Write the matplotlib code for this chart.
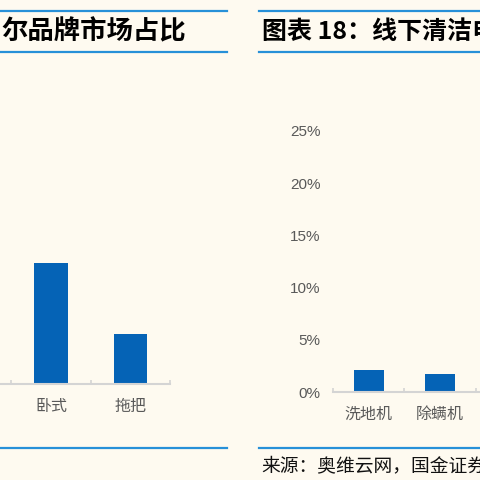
import matplotlib
matplotlib.use('Agg')
import matplotlib.pyplot as plt
from matplotlib.lines import Line2D
from matplotlib.ticker import FixedLocator, PercentFormatter

plt.rcParams['font.family'] = ['Noto Sans CJK SC', 'DejaVu Sans']

# Left chart (cut off on the left side of the page)
left_categories = ['卧式', '拖把']
left_values = [11.6, 4.8]

# Right chart (cut off on the right side of the page)
right_categories = ['洗地机', '除螨机']
right_values = [2.1, 1.7]
right_yticks = [0, 5, 10, 15, 20, 25]

left_title = '尔品牌市场占比'
right_title = '图表 18：线下清洁电器品类市场占比'
source_text = '来源：奥维云网，国金证券研究所'

bg = '#FEFAF0'
bar_color = '#0563B6'
rule_color = '#2790D8'
axis_gray = '#D4D4D4'
label_gray = '#595959'

W = H = 480


def fx(x):
    return x / W


def fy(y):
    return 1 - y / H


fig = plt.figure(figsize=(4.8, 4.8), dpi=100, facecolor=bg)

# blue rules above/below the titles and above the source line
for x0, x1 in [(0, 227), (259, 480)]:
    for y in [11, 52]:
        fig.add_artist(Line2D([fx(x0), fx(x1)], [fy(y), fy(y)], color=rule_color,
                              lw=1.6, transform=fig.transFigure))
    fig.add_artist(Line2D([fx(x0), fx(x1)], [fy(448), fy(448)], color=rule_color,
                          lw=1.6, transform=fig.transFigure))

fig.text(fx(1), fy(32), left_title, fontsize=19, fontweight='bold', style='italic',
         ha='left', va='center', color='black')
fig.text(fx(262), fy(32), right_title, fontsize=18, fontweight='bold', style='italic',
         ha='left', va='center', color='black')
fig.text(fx(261), fy(466), source_text, fontsize=13.5, ha='left', va='center', color='#111111')


def style_axes(ax, n_slots):
    ax.set_facecolor('none')
    for s in ['top', 'right', 'left']:
        ax.spines[s].set_visible(False)
    ax.spines['bottom'].set_color(axis_gray)
    ax.spines['bottom'].set_linewidth(1.5)
    ax.set_ylim(0, 25)
    ax.xaxis.set_minor_locator(FixedLocator([i - 0.5 for i in range(n_slots + 1)]))
    ax.tick_params(axis='x', which='major', length=0, pad=10, labelsize=11.5, labelcolor=label_gray)
    ax.tick_params(axis='x', which='minor', length=3, width=1.2, color=axis_gray, direction='in')
    ax.tick_params(axis='y', length=0)


# left axes: last slot ends at x=170, slot width ~79 px
slot_l = 79.3
ax_l = fig.add_axes([fx(170 - 3 * slot_l), fy(384), 3 * slot_l / W, 261 / H])
xl = range(len(left_categories))
ax_l.bar(xl, left_values, width=0.42, color=bar_color)
ax_l.set_xlim(-1.5, 1.5)
ax_l.set_xticks(list(xl))
ax_l.set_xticklabels(left_categories)
style_axes(ax_l, 2)
ax_l.xaxis.set_minor_locator(FixedLocator([-0.5, 0.5, 1.5]))
ax_l.set_yticks([])

# right axes: baseline starts at x=333, slot width ~71 px
slot_r = 71.3
ax_r = fig.add_axes([fx(333), fy(392), 3 * slot_r / W, 261 / H])
xr = range(len(right_categories))
ax_r.bar(xr, right_values, width=0.42, color=bar_color)
ax_r.set_xlim(-0.5, 2.5)
ax_r.set_xticks(list(xr))
ax_r.set_xticklabels(right_categories)
style_axes(ax_r, 3)
ax_r.set_yticks(right_yticks)
ax_r.yaxis.set_major_formatter(PercentFormatter(decimals=0))
ax_r.tick_params(axis='y', pad=9, labelsize=11, labelcolor=label_gray)
for t in ax_r.get_yticklabels():
    t.set_family(['Liberation Sans', 'DejaVu Sans'])

fig.savefig('out.png', dpi=100, facecolor=bg)
